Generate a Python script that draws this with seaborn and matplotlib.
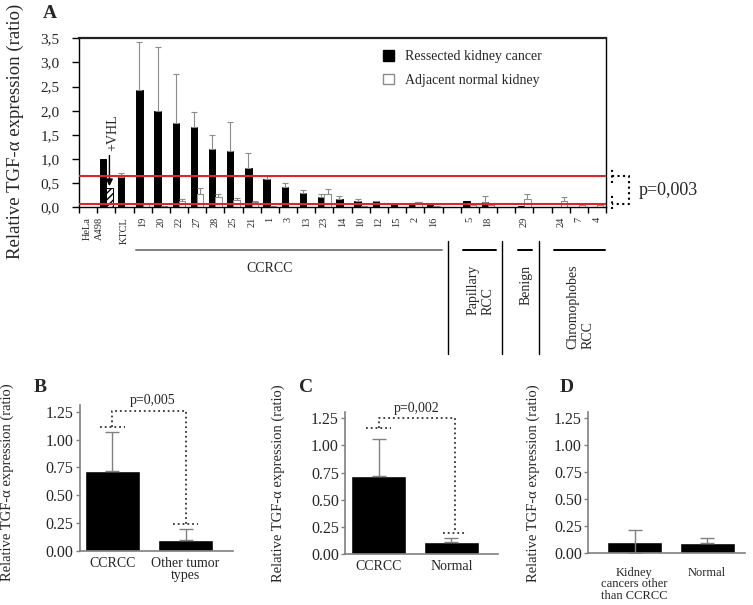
import numpy as np
import pandas as pd
import matplotlib
matplotlib.use("Agg")
import matplotlib.pyplot as plt
from matplotlib.patches import Patch
from matplotlib.transforms import blended_transform_factory
import seaborn as sns

nan = np.nan

# ---- panel A: per-sample TGF-alpha ratio, tumour vs adjacent normal ----
samples = ["HeLa", "A498", "KTCL", "19", "20", "22", "27", "28", "25", "21", "1", "3",
           "13", "23", "14", "10", "12", "15", "2", "16", " ", "5", "18", "  ",
           "29", "   ", "24", "7", "4"]
cancer_vals = [nan, 1.00, 0.63, 2.43, 1.99, 1.75, 1.66, 1.21, 1.17, 0.82, 0.59, 0.41,
               0.29, 0.22, 0.17, 0.12, 0.13, 0.09, 0.07, 0.05, nan, 0.12, 0.11, nan,
               0.02, nan, 0.01, 0.01, 0.01]
cancer_err = [0, 0, 0.09, 1.00, 1.32, 1.02, 0.31, 0.28, 0.59, 0.30, 0.06, 0.09,
              0.06, 0.05, 0.06, 0.05, 0.01, 0, 0, 0, 0, 0, 0.13, 0,
              0, 0, 0, 0, 0]
# A498 slot of the normal series holds A498 + VHL (hatched bar)
normal_vals = [nan, 0.40, nan, 0.06, 0.02, 0.12, 0.28, 0.22, 0.15, 0.11, 0.02, 0.01,
               0.01, 0.27, 0.01, 0.03, 0.01, 0.01, 0.10, 0.03, nan, 0.04, 0.05, nan,
               0.17, nan, 0.14, 0.04, 0.04]
normal_err = [0, 0, 0, 0.03, 0, 0.05, 0.12, 0.05, 0.05, 0.02, 0, 0,
              0, 0.10, 0, 0, 0, 0, 0.01, 0, 0, 0, 0.02, 0,
              0.10, 0, 0.07, 0, 0]
ref_levels = [0.64, 0.07]
pval_a = "p=0,003"
groups = [("CCRCC", 3, 19), ("Papillary\nRCC", 21, 22), ("Benign", 24, 24),
          ("Chromophobes\nRCC", 26, 28)]

# ---- panels B, C, D: group means ----
b_cats = ["CCRCC", "Other tumor\ntypes"]
b_vals = [0.72, 0.10]
b_err = [0.35, 0.10]
c_cats = ["CCRCC", "Normal"]
c_vals = [0.72, 0.11]
c_err = [0.34, 0.035]
d_cats = ["Kidney\ncancers other\nthan CCRCC", "Normal"]
d_vals = [0.095, 0.09]
d_err = [0.115, 0.05]

sns.set_style("ticks")
plt.rcParams["font.family"] = ["Liberation Serif", "DejaVu Serif"]

fig = plt.figure(figsize=(7.53, 6.05), dpi=100)
ylab = "Relative TGF-\u03b1 expression (ratio)"

# ================= panel A =================
axA = fig.add_axes([0.1049, 0.6574, 0.700, 0.2793])
n = len(samples)
df_a = pd.DataFrame({"sample": samples * 2,
                     "tissue": ["cancer"] * n + ["normal"] * n,
                     "ratio": cancer_vals + normal_vals}).dropna()
sns.barplot(data=df_a, x="sample", y="ratio", hue="tissue", order=samples,
            hue_order=["cancer", "normal"], palette={"cancer": "black", "normal": "white"},
            width=0.7, saturation=1, errorbar=None, legend=False, ax=axA,
            edgecolor="#8c8c8c", linewidth=0.7)

err_lookup = {}
for s, e in zip(samples, cancer_err):
    err_lookup[(s, "cancer")] = e
for s, e in zip(samples, normal_err):
    err_lookup[(s, "normal")] = e

vhl_bar = None
for bar in list(axA.patches):
    h = bar.get_height()
    if not np.isfinite(h):
        continue
    cx = bar.get_x() + bar.get_width() / 2
    i = int(round(cx))
    tissue = "cancer" if cx < i else "normal"
    if tissue == "cancer":
        bar.set_edgecolor("black")
    if samples[i] == "A498" and tissue == "normal":
        bar.set_hatch("/////")
        bar.set_edgecolor("black")
        vhl_bar = bar
    e = err_lookup[(samples[i], tissue)]
    if e > 0:
        axA.errorbar([cx], [h], yerr=[[0], [e]], fmt="none", ecolor="#8c8c8c",
                     elinewidth=0.8, capsize=2, capthick=0.8, zorder=1)

for lvl in ref_levels:
    axA.axhline(lvl, color="#e3232b", lw=1.5, zorder=5)

axA.set_xlim(-0.5, n - 0.5)
axA.set_ylim(0, 3.5)
yt = np.arange(0, 3.51, 0.5)
axA.set_yticks(yt)
axA.set_yticklabels([f"{v:.1f}".replace(".", ",") for v in yt], fontsize=11)
axA.tick_params(axis="y", length=5, width=1, pad=9, color="black")
lab_idx = [i for i, s in enumerate(samples) if s.strip()]
lab_pos = [float(i) for i in lab_idx]
lab_pos[0] -= 0.05
lab_pos[1] -= 0.4
axA.set_xticks(lab_pos)
axA.set_xticklabels([samples[i] for i in lab_idx], rotation=90, fontsize=7.5)
axA.set_xticks(np.arange(-0.5, n, 1), minor=True)
axA.tick_params(axis="x", which="major", length=0, pad=7)
axA.tick_params(axis="x", which="minor", length=4, width=1, color="black")
axA.set_xlabel("")
axA.set_ylabel(ylab, fontsize=13.5)
axA.yaxis.set_label_coords(-0.105, 0.45)
for sp in axA.spines.values():
    sp.set_color("black")
    sp.set_linewidth(1)
axA.spines["top"].set_linewidth(1.6)
axA.spines["top"].set_color("#222222")

axA.legend([Patch(facecolor="black", edgecolor="black"),
            Patch(facecolor="white", edgecolor="#8c8c8c")],
           ["Ressected kidney cancer", "Adjacent normal kidney"],
           loc="upper left", bbox_to_anchor=(0.553, 1.005), frameon=False, fontsize=10,
           handlelength=0.8, handleheight=0.8, handletextpad=0.8, labelspacing=0.75)

# +VHL arrow onto hatched bar
vx = vhl_bar.get_x() + vhl_bar.get_width() / 2
axA.annotate("", xy=(vx, vhl_bar.get_height() - 0.02), xytext=(vx, 1.13),
             arrowprops=dict(arrowstyle="-|>", color="black", lw=1, mutation_scale=10))
axA.text(vx + 0.2, 1.55, "+VHL", rotation=90, ha="center", va="center", fontsize=10)

# significance bracket between the two reference levels
tr = blended_transform_factory(axA.transAxes, axA.transData)
hi, lo = ref_levels
x1, x2 = 1.012, 1.043
axA.plot([x1, x2, x2, x1], [hi, hi, lo, lo], ls=":", color="black", lw=1.5,
         transform=tr, clip_on=False)
axA.plot([x1, x1], [hi - 0.13, hi + 0.2], ls=":", color="black", lw=1.5,
         transform=tr, clip_on=False)
axA.plot([x1, x1], [lo - 0.1, lo + 0.2], ls=":", color="black", lw=1.5,
         transform=tr, clip_on=False)
axA.text(1.062, (hi + lo) / 2, pval_a, transform=tr, fontsize=13, ha="left", va="center")

# tumour-type groups under the axis
tg = blended_transform_factory(axA.transData, axA.transAxes)
for name, a, b in groups:
    col = "#808080" if name == "CCRCC" else "black"
    axA.plot([a - 0.35, b + 0.45], [-0.25, -0.25], color=col, lw=1.4,
             transform=tg, clip_on=False)
    if "\n" in name or name == "Benign":
        axA.text((a + b) / 2 + 0.1, -0.34, name, rotation=90, ha="center", va="top",
                 multialignment="left", fontsize=10, transform=tg)
    else:
        axA.text(10.0, -0.36, name, ha="center", va="center", fontsize=10, transform=tg)
for gx in [20, 23, 25]:
    axA.plot([gx - 0.2, gx - 0.2], [-0.2, -0.87], color="black", lw=1,
             transform=tg, clip_on=False)

fig.text(0.066, 0.977, "A", fontsize=14, fontweight="bold", ha="center", va="center")


# ================= panels B, C, D =================
def small_panel(rect, cats, vals, errs, xlim, letter, letter_x, lab_x, lab_y,
                xfs=10, xpad=4, low_err=None):
    ax = fig.add_axes(rect)
    df = pd.DataFrame({"group": cats, "ratio": vals})
    sns.barplot(data=df, x="group", y="ratio", color="black", width=0.76,
                saturation=1, errorbar=None, ax=ax)
    for k, bar in enumerate(ax.patches):
        cx = bar.get_x() + bar.get_width() / 2
        lo_e = 0 if low_err is None else low_err[k]
        ax.errorbar([cx], [bar.get_height()], yerr=[[lo_e], [errs[k]]], fmt="none",
                    ecolor="#808080", elinewidth=1, capsize=5, capthick=1, zorder=3)
    ax.set_xlim(*xlim)
    ax.set_ylim(0, 1.31)
    ax.set_yticks([0, 0.25, 0.5, 0.75, 1.0, 1.25])
    ax.set_yticklabels([f"{v:.2f}" for v in [0, 0.25, 0.5, 0.75, 1.0, 1.25]],
                       fontsize=11.5)
    ax.tick_params(axis="y", length=3, width=1, color="#808080", pad=1.5)
    ax.tick_params(axis="x", length=0, pad=xpad, labelsize=xfs)
    for lbl in ax.get_xticklabels():
        lbl.set_linespacing(0.95)
    sns.despine(ax=ax)
    for sp in ["left", "bottom"]:
        ax.spines[sp].set_color("#808080")
        ax.spines[sp].set_linewidth(1.2)
    ax.set_xlabel("")
    ax.set_ylabel(ylab, fontsize=10.5)
    ax.yaxis.set_label_coords(lab_x, lab_y)
    fig.text(letter_x, 0.36, letter, fontsize=14, fontweight="bold",
             ha="center", va="center")
    return ax


def bracket(ax, y_left, y_right, top, text, text_x, x_right=1.0):
    kw = dict(ls=":", color="#333333", lw=1.3, clip_on=False)
    ax.plot([-0.17, 0.17], [y_left, y_left], **kw)
    ax.plot([0, 0, x_right, x_right], [y_left, top, top, y_right], **kw)
    ax.plot([x_right - 0.17, x_right + 0.17], [y_right, y_right], **kw)
    ax.text(text_x, top + 0.03, text, ha="center", va="bottom", fontsize=10)


axB = small_panel([0.1062, 0.0893, 0.2032, 0.2413], b_cats, b_vals, b_err,
                  (-0.445, 1.65), "B", 0.053, -0.43, 0.47)
bracket(axB, 1.115, 0.24, 1.26, "p=0,005", 0.55)

axC = small_panel([0.4582, 0.0843, 0.2032, 0.2352], c_cats, c_vals, c_err,
                  (-0.46, 1.64), "C", 0.407, -0.39, 0.5)
bracket(axC, 1.16, 0.19, 1.25, "p=0,002", 0.52, x_right=1.05)

axD = small_panel([0.7809, 0.0865, 0.2085, 0.2330], d_cats, d_vals, d_err,
                  (-0.64, 1.52), "D", 0.753, -0.306, 0.49, xfs=9, xpad=10,
                  low_err=[0.095, 0])

fig.savefig("out.png", dpi=100)
